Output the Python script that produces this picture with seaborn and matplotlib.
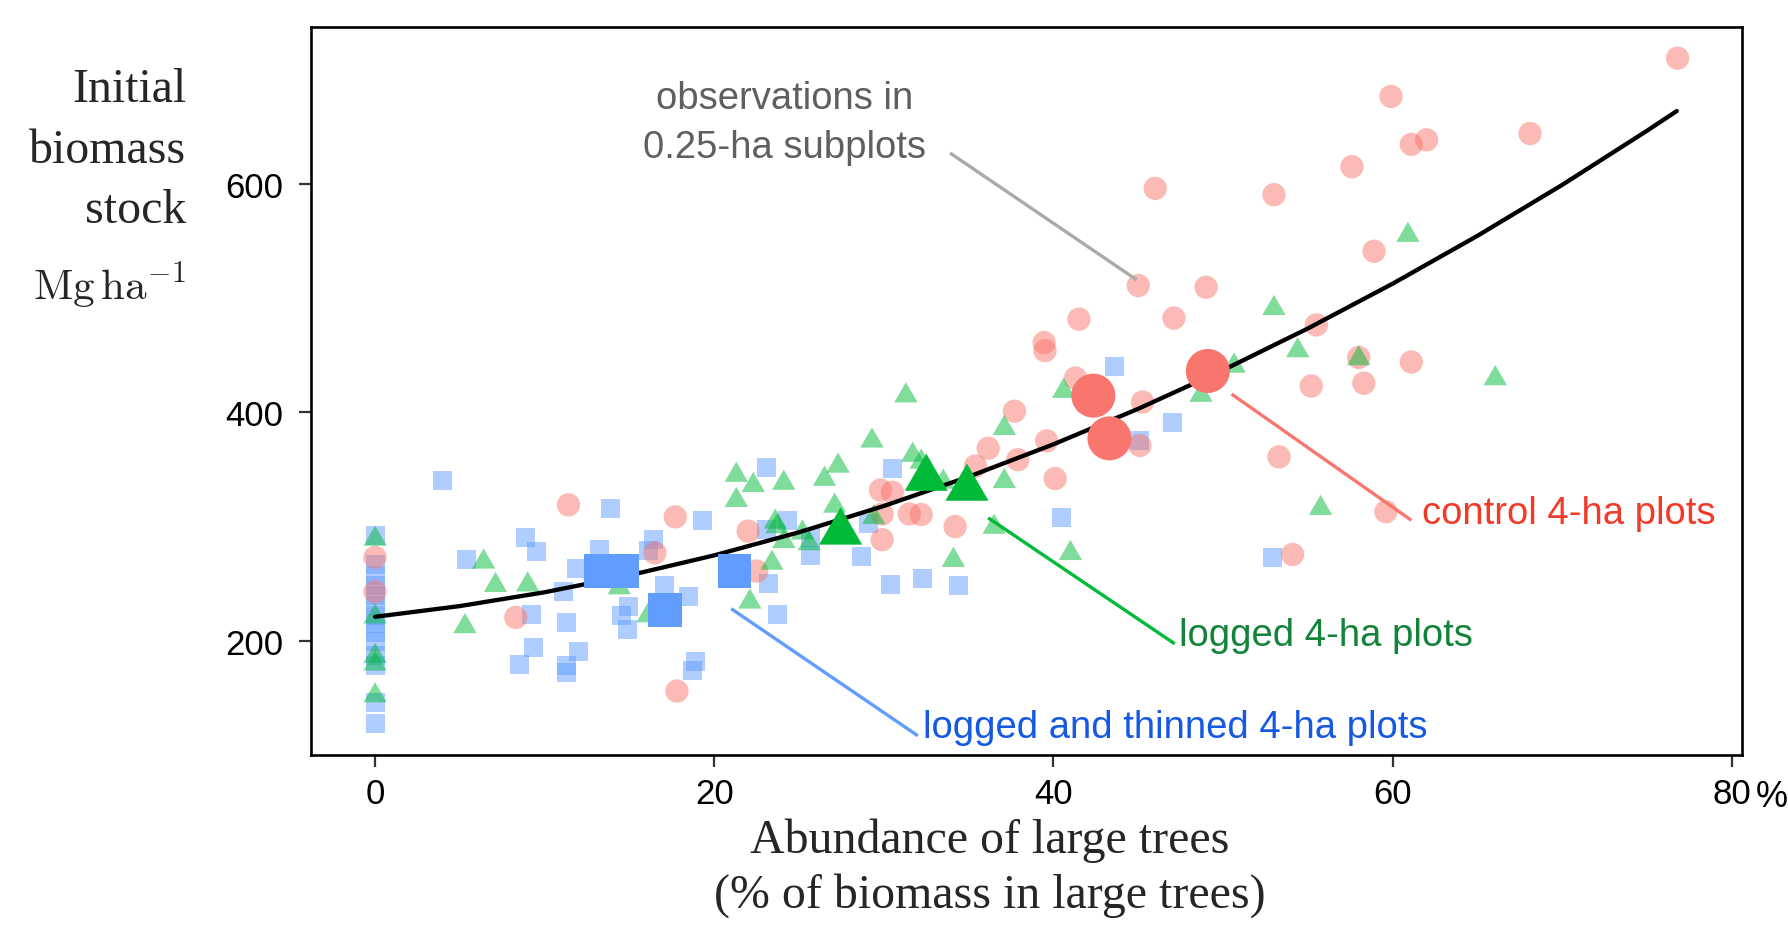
import matplotlib
matplotlib.use("Agg")
import matplotlib.pyplot as plt
import seaborn as sns
import pandas as pd
from matplotlib.markers import MarkerStyle

# ---------------- data ----------------
# 0.25-ha subplot observations: control (circles)
ctrl_x = [0, 0, 8.3, 11.4, 16.5, 17.7, 17.8, 22.0, 22.5, 29.8, 30.5, 29.9, 31.5, 32.2,
          29.9, 34.2, 35.4, 36.15, 37.7, 37.9, 39.6, 40.1, 39.45, 39.5, 41.3, 41.5,
          45.25, 45.1, 45.0, 46.0, 47.1, 49.0, 53.0, 53.3, 54.1, 55.2, 55.5, 57.6,
          58.0, 58.3, 58.9, 59.6, 59.9, 61.1, 61.1, 62.0, 68.1, 76.8]
ctrl_y = [273, 243, 220.5, 319, 277, 308.5, 156, 296, 261, 332, 330, 311, 311, 310.5,
          288.5, 300, 353, 368.5, 401, 358.5, 375, 342, 461, 454, 430, 481.5,
          409, 371, 511, 596, 482.5, 509.5, 590.5, 361, 275.5, 423, 476.5, 615,
          448, 425.5, 541, 313, 676.5, 634.5, 444, 638.5, 644, 710]

# logged (triangles)
log_x = [0, 0, 0, 0, 0, 5.3, 6.4, 7.1, 9.0, 14.4, 16.1, 21.3, 21.3, 22.3, 22.1, 23.4,
         23.6, 23.7, 24.1, 24.1, 25.2, 25.6, 26.5, 27.1, 27.3, 29.3, 29.4, 31.3, 31.7,
         32.2, 33.5, 34.1, 36.5, 37.1, 37.1, 40.6, 41.0, 48.7, 50.65, 53.0, 54.4,
         55.75, 58.0, 60.9, 66.05]
log_y = [292, 224, 189.5, 182.7, 155, 215.5, 272, 251.5, 252, 249.5, 225, 348, 326, 339,
         237, 271, 307, 303, 341, 290, 297.5, 288, 344.5, 321, 356, 378, 311, 417.5,
         365.5, 359.5, 342, 273.5, 302.5, 389, 342.5, 421.5, 279.5, 418, 443.5, 494,
         457, 319, 450, 558, 432.5]

# logged and thinned (squares)
thin_x = [0, 0, 0, 0, 0, 0, 0, 0, 0, 0, 0, 0, 0, 0, 4.0, 5.4, 8.85, 9.5, 9.25, 9.35,
          8.5, 11.1, 11.3, 11.3, 11.3, 12.0, 11.9, 13.25, 13.9, 16.4, 16.1, 17.05, 18.5,
          14.95, 14.55, 14.9, 19.3, 18.9, 18.7, 23.1, 30.5, 24.3, 23.1, 25.7, 25.7, 29.1,
          28.7, 23.2, 23.7, 30.4, 32.3, 34.4, 40.5, 43.6, 45.1, 47.0, 52.9]
thin_y = [292, 267, 257, 248.5, 240, 231, 222, 215, 207.5, 199, 187, 178, 146, 128,
          340.5, 271, 290, 278.5, 223, 194, 179.5, 243, 216, 178, 172.5, 190.5, 263,
          280, 316, 288.5, 279, 248.5, 239, 230, 222, 210, 305.5, 182, 174, 352, 351,
          305.5, 297, 275, 290, 302.5, 273.5, 250, 223, 249, 254.5, 248.5, 307.5, 440,
          375, 391.5, 272.5]

# 4-ha plot means
ctrl4_x = [42.35, 43.3, 49.1]
ctrl4_y = [414.6, 377.2, 436.2]
log4_x = [27.45, 32.5, 34.9]
log4_y = [300.5, 347.6, 338.9]
thin4_x = [13.3, 14.55, 17.1, 21.2]
thin4_y = [261, 261, 227, 261]

# fitted curve
fit_x = [0, 5, 10, 15, 20, 25, 30, 35, 40, 45, 50, 55, 60, 65, 70, 75, 76.75]
fit_y = [221.0, 230.4, 242.5, 257.3, 274.8, 295.0, 318.0, 343.6, 372.0, 403.1,
         436.9, 473.4, 512.6, 554.5, 599.1, 646.5, 663.7]

x_ticks = [0, 20, 40, 60, 80]
x_ticklabels = ["0", "20", "40", "60", "80"]
y_ticks = [200, 400, 600]
y_ticklabels = ["200", "400", "600"]

# annotations: (text, text x, text baseline y, color, line start, line end, line color)
ann_obs = (["observations in", "0.25-ha subplots"], 24.13, [666.1, 623.3], "#5F5F5F",
           (33.9, 627), (44.9, 516), "#AAAAAA")
ann_ctrl = ("control 4-ha plots", 61.7, 303.5, "#F23A28", (50.5, 416), (61.1, 305.5), "#F8766D")
ann_log = ("logged 4-ha plots", 47.4, 195.9, "#13833A", (36.15, 307.6), (47.15, 197.4), "#00BA38")
ann_thin = ("logged and thinned 4-ha plots", 32.3, 115.4, "#1558E4", (21.0, 228.1), (32.0, 116.9), "#619CFF")

RED, GREEN, BLUE = "#F8766D", "#00BA38", "#619CFF"

# ---------------- figure ----------------
sns.set_style("white")
plt.rcParams["font.family"] = ["Liberation Sans", "DejaVu Sans"]
plt.rcParams["mathtext.fontset"] = "cm"

fig = plt.figure(figsize=(17.88, 9.28), dpi=100)
ax = fig.add_axes([0.1742, 0.1853, 0.8001, 0.7842])

tri = MarkerStyle([(0, 1), (-1.1547, -1), (1.1547, -1)])

sns.scatterplot(x=thin_x, y=thin_y, marker="s", s=187, color=BLUE, alpha=0.5,
                linewidth=0, edgecolor="none", ax=ax, zorder=2)
sns.scatterplot(x=ctrl_x, y=ctrl_y, marker="o", s=282, color=RED, alpha=0.5,
                linewidth=0, edgecolor="none", ax=ax, zorder=3)
sns.scatterplot(x=log_x, y=log_y, marker=tri, s=282, color=GREEN, alpha=0.5,
                linewidth=0, edgecolor="none", ax=ax, zorder=4)

sns.lineplot(x=fit_x, y=fit_y, color="black", linewidth=3.1, ax=ax, zorder=5,
             sort=True, estimator=None)

sns.scatterplot(x=ctrl4_x, y=ctrl4_y, marker="o", s=1004, color=RED, alpha=1,
                linewidth=0, edgecolor="none", ax=ax, zorder=6)
sns.scatterplot(x=log4_x, y=log4_y, marker=tri, s=960, color=GREEN, alpha=1,
                linewidth=0, edgecolor="none", ax=ax, zorder=6)
sns.scatterplot(x=thin4_x, y=thin4_y, marker="s", s=581, color=BLUE, alpha=1,
                linewidth=0, edgecolor="none", ax=ax, zorder=6)

# annotations
lines, tx, tys, tc, p0, p1, lc = ann_obs
ax.plot([p0[0], p1[0]], [p0[1], p1[1]], color=lc, lw=2.4, solid_capstyle="butt", zorder=7)
for line, ty in zip(lines, tys):
    ax.text(tx, ty, line, ha="center", va="baseline", color=tc, fontsize=27.5, zorder=8)
for (txt, tx, ty, tc, p0, p1, lc) in (ann_ctrl, ann_log, ann_thin):
    ax.plot([p0[0], p1[0]], [p0[1], p1[1]], color=lc, lw=2.4, solid_capstyle="butt", zorder=7)
    ax.text(tx, ty, txt, ha="left", va="baseline", color=tc, fontsize=27.5, zorder=8)

ax.set_xlim(-3.75, 80.6)
ax.set_ylim(100, 737)
ax.set_xticks(x_ticks)
ax.set_xticklabels(x_ticklabels)
ax.set_yticks(y_ticks)
ax.set_yticklabels(y_ticklabels)
ax.set_xlabel("")
ax.set_ylabel("")
ax.tick_params(axis="both", direction="out", length=8.5, width=1.6, color="#333333",
               labelsize=25, labelcolor="black", bottom=True, left=True)
ax.tick_params(axis="x", pad=7)
ax.tick_params(axis="y", pad=12)
for sp in ax.spines.values():
    sp.set_visible(True)
    sp.set_color("black")
    sp.set_linewidth(1.9)
ax.grid(False)

# percent sign after the 80 tick label
fig.text(1756 / 1788, 1 - 807 / 928, "%", ha="left", va="baseline", fontsize=26,
         color="black")

# axis titles (serif)
serif = ["Liberation Serif", "DejaVu Serif"]
fig.text(0.5537, 1 - 853 / 928, "Abundance of large trees", ha="center", va="baseline",
         fontsize=34.5, family=serif)
fig.text(0.5537, 1 - 908 / 928, "(% of biomass in large trees)", ha="center",
         va="baseline", fontsize=34.5, family=serif)

ylab_x = 186 / 1788
for txt, base in (("Initial", 102), ("biomass", 163), ("stock", 223)):
    fig.text(ylab_x, 1 - base / 928, txt, ha="right", va="baseline", fontsize=34.5,
             family=serif)
fig.text(ylab_x, 1 - 300 / 928, r"$\mathrm{Mg\,ha}^{-1}$", ha="right", va="baseline",
         fontsize=31)

fig.savefig("out.png", dpi=100, facecolor="white")
